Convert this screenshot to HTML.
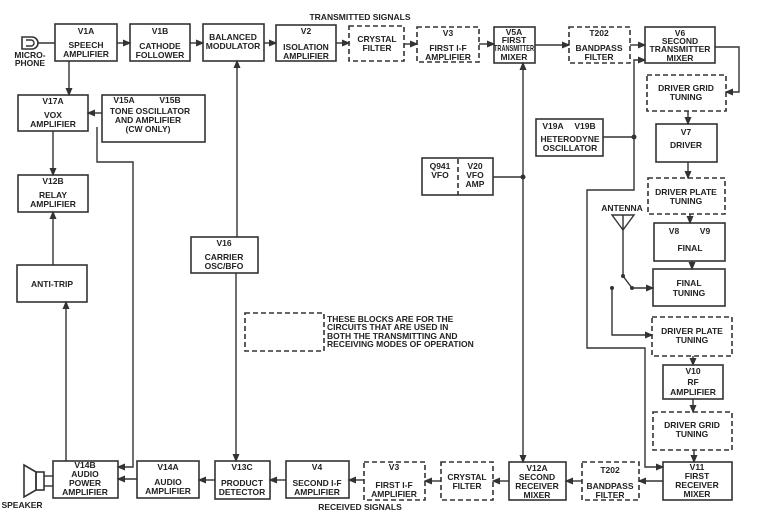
<!DOCTYPE html>
<html><head><meta charset="utf-8"><style>
html,body{margin:0;padding:0;background:#fff}
svg{display:block}
text{font-family:"Liberation Sans",sans-serif;font-weight:bold;font-size:8.5px;fill:#222;text-anchor:middle}
.b{fill:none;stroke:#333;stroke-width:1.6}
.d{fill:none;stroke:#333;stroke-width:1.6;stroke-dasharray:5,3}
.l{fill:none;stroke:#333;stroke-width:1.4}
</style></head><body>
<svg width="765" height="517" viewBox="0 0 765 517" xmlns="http://www.w3.org/2000/svg">
<defs><marker id="a" markerWidth="6" markerHeight="6" refX="5" refY="3" orient="auto"><path d="M0,0.5 L6,3 L0,5.5 z" fill="#333"/></marker></defs>
<rect class="b" x="55" y="24" width="62" height="37"/>
<rect class="b" x="130" y="24" width="60" height="37"/>
<rect class="b" x="203" y="24" width="61" height="37"/>
<rect class="b" x="276" y="25" width="60" height="36"/>
<rect class="d" x="349" y="26" width="55" height="35"/>
<rect class="d" x="417" y="27" width="62" height="35"/>
<rect class="b" x="494" y="27" width="41" height="36"/>
<rect class="d" x="569" y="27" width="61" height="36"/>
<rect class="b" x="645" y="27" width="70" height="36"/>
<rect class="d" x="647" y="75" width="79" height="36"/>
<rect class="b" x="656" y="124" width="61" height="38"/>
<rect class="d" x="648" y="178" width="77" height="36"/>
<rect class="b" x="654" y="223" width="71" height="38"/>
<rect class="b" x="653" y="269" width="72" height="37"/>
<rect class="d" x="652" y="317" width="80" height="39"/>
<rect class="b" x="663" y="365" width="60" height="34"/>
<rect class="d" x="653" y="412" width="79" height="38"/>
<rect class="b" x="663" y="462" width="69" height="38"/>
<rect class="d" x="582" y="462" width="57" height="38"/>
<rect class="b" x="509" y="462" width="57" height="38"/>
<rect class="d" x="441" y="462" width="52" height="38"/>
<rect class="d" x="364" y="462" width="61" height="38"/>
<rect class="b" x="286" y="461" width="63" height="37"/>
<rect class="b" x="215" y="461" width="55" height="38"/>
<rect class="b" x="137" y="461" width="62" height="37"/>
<rect class="b" x="53" y="461" width="65" height="37"/>
<rect class="b" x="17" y="265" width="70" height="37"/>
<rect class="b" x="18" y="95" width="70" height="36"/>
<rect class="b" x="102" y="95" width="103" height="47"/>
<rect class="b" x="18" y="175" width="70" height="37"/>
<rect class="b" x="191" y="237" width="67" height="36"/>
<rect class="d" x="245" y="313" width="79" height="38"/>
<rect class="b" x="422" y="158" width="71" height="37"/>
<line class="d" x1="458" y1="159" x2="458" y2="195"/>
<rect class="b" x="536" y="119" width="67" height="37"/>
<path class="b" d="M22,37 h10 a6,6 0 0 1 0,12 h-10 z"/><path class="l" d="M26,40 h5 a3,3 0 0 1 0,6 h-5"/>
<line class="l" x1="38" y1="43" x2="55" y2="43"/>
<path class="b" d="M24,465 L36,472 L36,490 L24,497 z"/><rect class="b" x="36" y="472" width="8" height="18"/>
<line class="l" x1="44" y1="476" x2="53" y2="476"/><line class="l" x1="44" y1="486" x2="53" y2="486"/>
<g class="l" marker-end="url(#a)">
<line x1="117" y1="43" x2="130" y2="43"/>
<line x1="190" y1="43" x2="203" y2="43"/>
<line x1="264" y1="43" x2="276" y2="43"/>
<line x1="336" y1="43" x2="349" y2="43"/>
<line x1="404" y1="44" x2="417" y2="44"/>
<line x1="479" y1="44" x2="494" y2="44"/>
<line x1="535" y1="45" x2="569" y2="45"/>
<line x1="630" y1="45" x2="645" y2="45"/>
<path d="M715,47 H739 V92 H726"/>
<line x1="688" y1="111" x2="688" y2="124"/>
<line x1="688" y1="162" x2="688" y2="178"/>
<line x1="690" y1="214" x2="690" y2="223"/>
<line x1="692" y1="261" x2="692" y2="269"/>
<line x1="693" y1="356" x2="693" y2="365"/>
<line x1="693" y1="399" x2="693" y2="412"/>
<line x1="694" y1="450" x2="694" y2="462"/>
<line x1="663" y1="481" x2="639" y2="481"/>
<line x1="582" y1="481" x2="566" y2="481"/>
<line x1="509" y1="481" x2="493" y2="481"/>
<line x1="441" y1="481" x2="425" y2="481"/>
<line x1="364" y1="480" x2="349" y2="480"/>
<line x1="286" y1="480" x2="270" y2="480"/>
<line x1="215" y1="480" x2="199" y2="480"/>
<line x1="137" y1="479" x2="118" y2="479"/>
<line x1="69" y1="61" x2="69" y2="95"/>
<line x1="102" y1="113" x2="88" y2="113"/>
<line x1="53" y1="131" x2="53" y2="175"/>
<line x1="53" y1="265" x2="53" y2="212"/>
<line x1="66" y1="461" x2="66" y2="302"/>
<path d="M97,127 V162 H133 V467 H118"/>
<line x1="237" y1="237" x2="237" y2="61"/>
<line x1="236" y1="273" x2="236" y2="461"/>
<line x1="523" y1="177" x2="523" y2="63"/>
<line x1="523" y1="177" x2="523" y2="462"/>
<path d="M634,137 V60 H645"/>
<path d="M634,137 V190 H587 V348 H645 V467 H663"/>
<path d="M612,288 V335 H652"/>
<line x1="632" y1="288" x2="653" y2="288"/>
</g>
<line class="l" x1="493" y1="177" x2="523" y2="177"/>
<line class="l" x1="603" y1="137" x2="634" y2="137"/>
<circle cx="523" cy="177" r="2.5" fill="#333"/><circle cx="634" cy="137" r="2.5" fill="#333"/>
<path class="l" d="M612,215 H634 L623,230 Z M623,215 V276 L632,288"/>
<circle cx="623" cy="276" r="2" fill="#333"/><circle cx="632" cy="288" r="2" fill="#333"/><circle cx="612" cy="288" r="2" fill="#333"/>
<text x="360" y="20">TRANSMITTED SIGNALS</text>
<text x="360" y="510">RECEIVED SIGNALS</text>
<text x="30" y="58">MICRO-</text><text x="30" y="66">PHONE</text>
<text x="22" y="508">SPEAKER</text>
<text x="86" y="34">V1A</text><text x="86" y="48">SPEECH</text><text x="86" y="57">AMPLIFIER</text>
<text x="160" y="34">V1B</text><text x="160" y="49">CATHODE</text><text x="160" y="58">FOLLOWER</text>
<text x="233" y="40">BALANCED</text><text x="233" y="49">MODULATOR</text>
<text x="306" y="34">V2</text><text x="306" y="50">ISOLATION</text><text x="306" y="59">AMPLIFIER</text>
<text x="377" y="42">CRYSTAL</text><text x="377" y="51">FILTER</text>
<text x="448" y="36">V3</text><text x="448" y="51">FIRST I-F</text><text x="448" y="60">AMPLIFIER</text>
<g style="font-size:7.5px"><text x="514" y="35">V5A</text><text x="514" y="43">FIRST</text><text x="514" y="51" textLength="40" lengthAdjust="spacingAndGlyphs">TRANSMITTER</text><text x="514" y="60">MIXER</text></g>
<text x="599" y="36">T202</text><text x="599" y="51">BANDPASS</text><text x="599" y="60">FILTER</text>
<text x="680" y="36">V6</text><text x="680" y="44">SECOND</text><text x="680" y="52">TRANSMITTER</text><text x="680" y="61">MIXER</text>
<text x="686" y="91">DRIVER GRID</text><text x="686" y="100">TUNING</text>
<text x="686" y="135">V7</text><text x="686" y="148">DRIVER</text>
<text x="686" y="195">DRIVER PLATE</text><text x="686" y="204">TUNING</text>
<text x="674" y="234">V8</text><text x="705" y="234">V9</text><text x="690" y="251">FINAL</text>
<text x="689" y="286">FINAL</text><text x="689" y="296">TUNING</text>
<text x="692" y="334">DRIVER PLATE</text><text x="692" y="343">TUNING</text>
<text x="693" y="374">V10</text><text x="693" y="385">RF</text><text x="693" y="395">AMPLIFIER</text>
<text x="692" y="428">DRIVER GRID</text><text x="692" y="437">TUNING</text>
<text x="697" y="470">V11</text><text x="697" y="479">FIRST</text><text x="697" y="488">RECEIVER</text><text x="697" y="497">MIXER</text>
<text x="610" y="473">T202</text><text x="610" y="489">BANDPASS</text><text x="610" y="498">FILTER</text>
<text x="537" y="471">V12A</text><text x="537" y="480">SECOND</text><text x="537" y="489">RECEIVER</text><text x="537" y="498">MIXER</text>
<text x="467" y="480">CRYSTAL</text><text x="467" y="489">FILTER</text>
<text x="394" y="470">V3</text><text x="394" y="488">FIRST I-F</text><text x="394" y="497">AMPLIFIER</text>
<text x="317" y="470">V4</text><text x="317" y="486">SECOND I-F</text><text x="317" y="495">AMPLIFIER</text>
<text x="242" y="470">V13C</text><text x="242" y="486">PRODUCT</text><text x="242" y="495">DETECTOR</text>
<text x="168" y="470">V14A</text><text x="168" y="485">AUDIO</text><text x="168" y="494">AMPLIFIER</text>
<text x="85" y="468">V14B</text><text x="85" y="477">AUDIO</text><text x="85" y="486">POWER</text><text x="85" y="495">AMPLIFIER</text>
<text x="52" y="287">ANTI-TRIP</text>
<text x="53" y="104">V17A</text><text x="53" y="118">VOX</text><text x="53" y="127">AMPLIFIER</text>
<text x="124" y="103">V15A</text><text x="170" y="103">V15B</text>
<text x="150" y="114">TONE OSCILLATOR</text><text x="148" y="123">AND AMPLIFIER</text><text x="148" y="132">(CW ONLY)</text>
<text x="53" y="184">V12B</text><text x="53" y="198">RELAY</text><text x="53" y="207">AMPLIFIER</text>
<text x="224" y="246">V16</text><text x="224" y="260">CARRIER</text><text x="224" y="269">OSC/BFO</text>
<text x="440" y="169">Q941</text><text x="440" y="178">VFO</text>
<text x="475" y="169">V20</text><text x="475" y="178">VFO</text><text x="475" y="187">AMP</text>
<text x="553" y="129">V19A</text><text x="585" y="129">V19B</text>
<text x="570" y="142">HETERODYNE</text><text x="570" y="151">OSCILLATOR</text>
<text x="622" y="211">ANTENNA</text>
<text x="327" y="322" style="text-anchor:start">THESE BLOCKS ARE FOR THE</text>
<text x="327" y="330" style="text-anchor:start">CIRCUITS THAT ARE USED IN</text>
<text x="327" y="339" style="text-anchor:start">BOTH THE TRANSMITTING AND</text>
<text x="327" y="347" style="text-anchor:start">RECEIVING MODES OF OPERATION</text>
</svg>
</body></html>
